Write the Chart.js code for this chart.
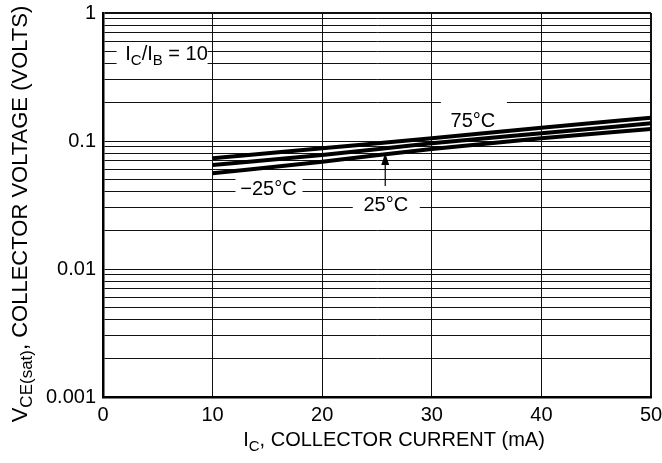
<!DOCTYPE html>
<html>
<head>
<meta charset="utf-8">
<script src="https://cdn.jsdelivr.net/npm/chart.js@4.4.0/dist/chart.umd.min.js"></script>
<style>
  html, body { margin: 0; padding: 0; background: #fff; }
  canvas { display: block; }
</style>
</head>
<body>
<canvas id="vceChart" width="662" height="463"></canvas>
<script>
// collector current (mA) and VCE(sat) per temperature
const currentMa = [10, 20, 30, 40, 50];
const vce75 = [0.0733, 0.0877, 0.105, 0.127, 0.152];
const vce25 = [0.0649, 0.0778, 0.0959, 0.1148, 0.1374];
const vceMinus25 = [0.056, 0.0689, 0.0866, 0.105, 0.124];

const xTicks = [0, 10, 20, 30, 40, 50];
const yTicks = [
  0.001, 0.002, 0.003, 0.004, 0.005, 0.006, 0.007, 0.008, 0.009,
  0.01, 0.02, 0.03, 0.04, 0.05, 0.06, 0.07, 0.08, 0.09,
  0.1, 0.2, 0.3, 0.4, 0.5, 0.6, 0.7, 0.8, 0.9,
  1
];
const yMajor = [0.001, 0.01, 0.1, 1];
const yMajorLabels = ['0.001', '0.01', '0.1', '1'];

const FONT = "'Liberation Sans', Arial, Helvetica, sans-serif";

// labels on the plot (position in data units, white box in px around text centre)
const notes = [
  { parts: [['I'], ['C', 1], ['/'], ['I'], ['B', 1], [' = 10']], x: 5.8, y: 0.487, box: [-50, 41, -9, 11] },
  { parts: [['75°C']], x: 33.75, y: 0.146, box: [-32, 34, -21, 11] },
  { parts: [['\u221225°C']], x: 15.1, y: 0.043, box: [-33, 34, -12, 9] },
  { parts: [['25°C']], x: 25.8, y: 0.0322, box: [-33, 34, -10, 10] }
];
const arrow25 = { x: 25.75, tip: 0.0805, tail: 0.0445 };

function drawParts(ctx, parts, cx, base, size, subSize, drop) {
  let total = 0;
  parts.forEach(p => {
    ctx.font = (p[1] ? subSize : size) + 'px ' + FONT;
    total += ctx.measureText(p[0]).width;
  });
  let x = cx - total / 2;
  ctx.textAlign = 'left';
  ctx.textBaseline = 'alphabetic';
  parts.forEach(p => {
    ctx.font = (p[1] ? subSize : size) + 'px ' + FONT;
    ctx.fillText(p[0], x, base + (p[1] ? drop : 0));
    x += ctx.measureText(p[0]).width;
  });
}

const notesPlugin = {
  id: 'notes',
  beforeDatasetsDraw(chart) {
    const ctx = chart.ctx;
    const xs = chart.scales.x, ys = chart.scales.y;
    ctx.save();
    notes.forEach(n => {
      const cx = xs.getPixelForValue(n.x);
      const cy = ys.getPixelForValue(n.y);
      ctx.fillStyle = '#fff';
      ctx.fillRect(cx + n.box[0], cy + n.box[2], n.box[1] - n.box[0], n.box[3] - n.box[2]);
      ctx.fillStyle = '#000';
      drawParts(ctx, n.parts, cx, cy + 7, 20, 15, 5);
    });
    // arrow to the 25°C curve
    const ax = xs.getPixelForValue(arrow25.x);
    const tipY = ys.getPixelForValue(arrow25.tip);
    const tailY = ys.getPixelForValue(arrow25.tail);
    ctx.strokeStyle = '#000';
    ctx.lineWidth = 1.2;
    ctx.beginPath();
    ctx.moveTo(ax, tailY);
    ctx.lineTo(ax, tipY + 8);
    ctx.stroke();
    ctx.fillStyle = '#000';
    ctx.beginPath();
    ctx.moveTo(ax, tipY);
    ctx.lineTo(ax - 4, tipY + 12);
    ctx.lineTo(ax + 4, tipY + 12);
    ctx.closePath();
    ctx.fill();
    ctx.restore();
  },
  afterDraw(chart) {
    const ctx = chart.ctx;
    ctx.save();
    ctx.fillStyle = '#000';
    // x axis title
    drawParts(ctx, [['I'], ['C', 1], [', COLLECTOR CURRENT (mA)']], 394, 446, 20, 15, 5);
    // y axis title
    ctx.translate(27, 214);
    ctx.rotate(-Math.PI / 2);
    drawParts(ctx, [['V'], ['CE(sat)', 1], [', COLLECTOR VOLTAGE (VOLTS)']], 0, 0, 22, 17, 5);
    ctx.restore();
  }
};

const line = (data, label) => ({
  label: label,
  data: currentMa.map((x, i) => ({ x: x, y: data[i] })),
  borderColor: '#000',
  borderWidth: 4,
  pointRadius: 0,
  fill: false,
  cubicInterpolationMode: 'monotone'
});

const ctx = document.getElementById('vceChart').getContext('2d');
new Chart(ctx, {
  type: 'line',
  data: {
    datasets: [
      line(vce75, '75°C'),
      line(vce25, '25°C'),
      line(vceMinus25, '-25°C')
    ]
  },
  options: {
    responsive: false,
    animation: false,
    layout: { padding: { left: 0, top: 13, right: 11, bottom: 0 } },
    plugins: {
      legend: { display: false },
      tooltip: { enabled: false }
    },
    scales: {
      x: {
        type: 'linear',
        min: 0,
        max: 50,
        afterBuildTicks: scale => { scale.ticks = xTicks.map(v => ({ value: v })); },
        afterFit: scale => {
          scale.height = 66;
          scale.paddingLeft = 0;
          scale.paddingRight = 0;
        },
        grid: {
          color: '#111',
          lineWidth: c => (c.tick && c.tick.value === 50 ? 2 : 1),
          drawTicks: false
        },
        border: { color: '#000', width: 2.5 },
        ticks: {
          color: '#000',
          padding: 6,
          font: { family: FONT, size: 20 },
          maxRotation: 0
        }
      },
      y: {
        type: 'logarithmic',
        min: 0.001,
        max: 1,
        afterBuildTicks: scale => { scale.ticks = yTicks.map(v => ({ value: v })); },
        afterFit: scale => {
          scale.width = 103;
          scale.paddingTop = 0;
          scale.paddingBottom = 0;
        },
        grid: {
          color: '#111',
          lineWidth: c => (c.tick && c.tick.value === 1 ? 2 : 1),
          drawTicks: false
        },
        border: { color: '#000', width: 2.5 },
        ticks: {
          color: '#000',
          padding: 7,
          autoSkip: false,
          font: { family: FONT, size: 20 },
          callback: value => {
            const i = yMajor.indexOf(value);
            return i >= 0 ? yMajorLabels[i] : '';
          }
        }
      }
    }
  },
  plugins: [notesPlugin]
});
</script>
</body>
</html>
